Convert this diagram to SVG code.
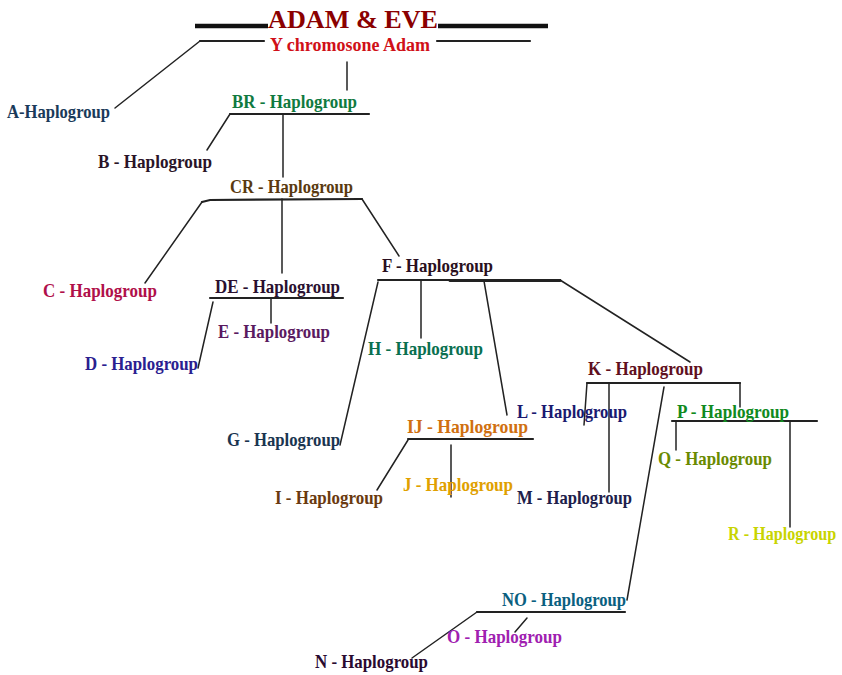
<svg xmlns="http://www.w3.org/2000/svg" width="842" height="675" viewBox="0 0 842 675">
<style>
text{font-family:"Liberation Serif","Times New Roman",serif;font-weight:bold;font-size:19px}
.title{font-size:25px;fill:#8b0000}
.conn line,.conn polyline{stroke:#222;stroke-width:1.5;fill:none;stroke-linecap:round}
.conn .bar{stroke-width:2.2}
.conn .thick{stroke:#111;stroke-width:4.5;stroke-linecap:butt}
</style>
<rect width="842" height="675" fill="#fff"/>
<g class="conn" id="connectors">
<line class="thick" x1="195" y1="26" x2="268" y2="26"/>
<line class="thick" x1="438" y1="26" x2="548" y2="26"/>
<line class="bar" x1="200" y1="41" x2="264" y2="41"/>
<line class="bar" x1="437" y1="41" x2="530" y2="41"/>
<line x1="200" y1="41" x2="115" y2="108"/>
<line x1="347" y1="62" x2="347" y2="90"/>
<line class="bar" x1="230" y1="114" x2="369" y2="114"/>
<line x1="230" y1="114" x2="207" y2="150"/>
<line x1="283" y1="114" x2="283" y2="177"/>
<polyline class="bar" points="202,202 210,200 362,199"/>
<line x1="202" y1="202" x2="145" y2="283"/>
<line x1="282" y1="199" x2="282" y2="273"/>
<line x1="362" y1="199" x2="399" y2="256"/>
<line class="bar" x1="210" y1="298" x2="343" y2="298"/>
<line x1="271" y1="298" x2="271" y2="323"/>
<line x1="213" y1="302" x2="198" y2="368"/>
<line class="bar" x1="378" y1="280" x2="560" y2="280"/>
<line class="bar" x1="450" y1="280.5" x2="560" y2="280.5" style="stroke-width:3"/>
<line x1="560" y1="280" x2="690" y2="362"/>
<line x1="378" y1="282" x2="340" y2="445"/>
<line x1="421" y1="281" x2="421" y2="338"/>
<line x1="484" y1="281" x2="507" y2="415"/>
<line class="bar" x1="587" y1="383" x2="740" y2="383"/>
<line x1="587" y1="383" x2="584" y2="425"/>
<line x1="609" y1="383" x2="609" y2="492"/>
<line x1="664" y1="387" x2="627" y2="600"/>
<line x1="740" y1="383" x2="740" y2="407"/>
<line class="bar" x1="672" y1="421" x2="817" y2="421"/>
<line x1="676" y1="421" x2="676" y2="450"/>
<line x1="790" y1="421" x2="790" y2="527"/>
<line class="bar" x1="408" y1="439" x2="533" y2="439"/>
<line x1="408" y1="440" x2="377" y2="490"/>
<line x1="451" y1="445" x2="451" y2="497"/>
<line class="bar" x1="477" y1="612" x2="625" y2="612"/>
<line x1="477" y1="612" x2="412" y2="658"/>
<line x1="527" y1="618" x2="515" y2="632"/>
</g>
<g id="title"><text class="title" x="268" y="28" textLength="170" lengthAdjust="spacingAndGlyphs">ADAM &amp; EVE</text></g>
<g id="yadam"><text x="270" y="51" fill="#d01018" style="font-size:18px" textLength="160" lengthAdjust="spacingAndGlyphs">Y chromosone Adam</text></g>
<g id="A"><text x="7" y="118" fill="#1a3a5a" textLength="103" lengthAdjust="spacingAndGlyphs">A-Haplogroup</text></g>
<g id="BR"><text x="232" y="108" fill="#107a40" textLength="125" lengthAdjust="spacingAndGlyphs">BR - Haplogroup</text></g>
<g id="B"><text x="98" y="168" fill="#2a1428" textLength="114" lengthAdjust="spacingAndGlyphs">B - Haplogroup</text></g>
<g id="CR"><text x="230" y="193" fill="#5a3a10" textLength="123" lengthAdjust="spacingAndGlyphs">CR - Haplogroup</text></g>
<g id="C"><text x="43" y="297" fill="#b0104a" textLength="114" lengthAdjust="spacingAndGlyphs">C - Haplogroup</text></g>
<g id="DE"><text x="215" y="293" fill="#2a1030" textLength="125" lengthAdjust="spacingAndGlyphs">DE - Haplogroup</text></g>
<g id="E"><text x="218" y="338" fill="#5a1a60" textLength="112" lengthAdjust="spacingAndGlyphs">E - Haplogroup</text></g>
<g id="D"><text x="85" y="370" fill="#2a2090" textLength="113" lengthAdjust="spacingAndGlyphs">D - Haplogroup</text></g>
<g id="F"><text x="382" y="272" fill="#2a1020" textLength="111" lengthAdjust="spacingAndGlyphs">F - Haplogroup</text></g>
<g id="H"><text x="368" y="355" fill="#0a7050" textLength="115" lengthAdjust="spacingAndGlyphs">H - Haplogroup</text></g>
<g id="G"><text x="227" y="446" fill="#1a3550" textLength="113" lengthAdjust="spacingAndGlyphs">G - Haplogroup</text></g>
<g id="K"><text x="588" y="375" fill="#601020" textLength="115" lengthAdjust="spacingAndGlyphs">K - Haplogroup</text></g>
<g id="L"><text x="517" y="418" fill="#1a1a70" textLength="110" lengthAdjust="spacingAndGlyphs">L - Haplogroup</text></g>
<g id="P"><text x="677" y="418" fill="#108a20" textLength="112" lengthAdjust="spacingAndGlyphs">P - Haplogroup</text></g>
<g id="Q"><text x="658" y="465" fill="#6a8a00" textLength="114" lengthAdjust="spacingAndGlyphs">Q - Haplogroup</text></g>
<g id="R"><text transform="translate(728,540) scale(0.85,1)" x="0" y="0" fill="#c8d400">R - Haplogroup</text></g>
<g id="IJ"><text x="407" y="433" fill="#d07010" textLength="121" lengthAdjust="spacingAndGlyphs">IJ - Haplogroup</text></g>
<g id="I"><text x="275" y="504" fill="#6a3a10" textLength="108" lengthAdjust="spacingAndGlyphs">I - Haplogroup</text></g>
<g id="J"><text x="403" y="491" fill="#e0a000" textLength="110" lengthAdjust="spacingAndGlyphs">J - Haplogroup</text></g>
<g id="M"><text x="517" y="504" fill="#20204a" textLength="115" lengthAdjust="spacingAndGlyphs">M - Haplogroup</text></g>
<g id="NO"><text x="502" y="606" fill="#0a6080" textLength="124" lengthAdjust="spacingAndGlyphs">NO - Haplogroup</text></g>
<g id="O"><text x="447" y="643" fill="#a020b0" textLength="115" lengthAdjust="spacingAndGlyphs">O - Haplogroup</text></g>
<g id="N"><text x="315" y="668" fill="#2a0a30" textLength="113" lengthAdjust="spacingAndGlyphs">N - Haplogroup</text></g>
</svg>
